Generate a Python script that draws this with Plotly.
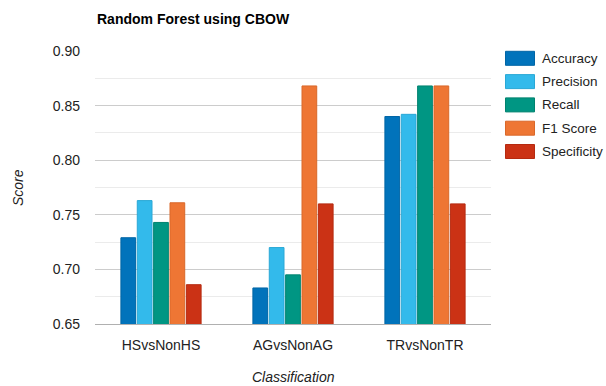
import plotly.graph_objects as go

categories = ["HSvsNonHS", "AGvsNonAG", "TRvsNonTR"]
series_names = ["Accuracy", "Precision", "Recall", "F1 Score", "Specificity"]
accuracy = [0.729, 0.683, 0.840]
precision = [0.763, 0.720, 0.842]
recall = [0.743, 0.695, 0.868]
f1_score = [0.761, 0.868, 0.868]
specificity = [0.686, 0.760, 0.760]
series_values = [accuracy, precision, recall, f1_score, specificity]
y_ticks = [0.65, 0.70, 0.75, 0.80, 0.85, 0.90]

colors = ["#0173BB", "#33BAEB", "#009683", "#EE7634", "#CB3215"]
edges = ["#0165A5", "#2AA8D6", "#00826F", "#D9682A", "#B52A10"]

FONT = "Liberation Sans, Arial, sans-serif"
W, H = 606, 386
L, R, T, B = 95, 115, 51, 62
pw, ph = W - L - R, H - T - B

fig = go.Figure()
for name, vals, c, e in zip(series_names, series_values, colors, edges):
    fig.add_trace(go.Bar(
        x=categories, y=vals, name=name,
        marker=dict(color=c, line=dict(color=e, width=1)),
        showlegend=False,
    ))

shapes = []
annotations = []
for i, (name, c, e) in enumerate(zip(series_names, colors, edges)):
    cy = 58.3 + i * 23.3
    x0, x1 = 505.5, 534.5
    shapes.append(dict(
        type="rect", xref="paper", yref="paper",
        x0=(x0 - L) / pw, x1=(x1 - L) / pw,
        y0=(H - B - (cy + 7)) / ph, y1=(H - B - (cy - 7)) / ph,
        fillcolor=c, line=dict(color=e, width=1),
    ))
    annotations.append(dict(
        text=name, xref="paper", yref="paper",
        x=(540 - L) / pw, y=(H - B - cy) / ph,
        xanchor="left", yanchor="middle", showarrow=False,
        font=dict(family=FONT, size=13.5, color="#222222"),
    ))

annotations.append(dict(
    text="<i>Score</i>", xref="paper", yref="paper",
    x=(18 - L) / pw, y=(H - B - 188) / ph, textangle=-90,
    xanchor="center", yanchor="middle", showarrow=False,
    font=dict(family=FONT, size=14, color="#222222"),
))
annotations.append(dict(
    text="<i>Classification</i>", xref="paper", yref="paper",
    x=0.5, y=(H - B - 377) / ph,
    xanchor="center", yanchor="middle", showarrow=False,
    font=dict(family=FONT, size=14, color="#222222"),
))
annotations.append(dict(
    text="<b>Random Forest using CBOW</b>", xref="paper", yref="paper",
    x=(95 - L) / pw, y=(H - B - 19) / ph,
    xanchor="left", yanchor="middle", showarrow=False,
    font=dict(family=FONT, size=14, color="#000000"),
))

fig.update_layout(
    width=W, height=H,
    margin=dict(l=L, r=R, t=T, b=B, pad=0),
    paper_bgcolor="white", plot_bgcolor="white",
    barmode="group", bargap=0.38, bargroupgap=0.1,
    font=dict(family=FONT, size=14, color="#222222"),
    shapes=shapes, annotations=annotations,
)
fig.update_xaxes(
    showgrid=False, showline=True, linecolor="#b0b0b0", linewidth=1,
    ticks="", ticklabelstandoff=8, tickfont=dict(size=14, color="#222222"),
    range=[-0.5, 2.5],
)
fig.update_yaxes(
    range=[0.65, 0.90], tickvals=y_ticks, tickformat=".2f",
    showgrid=True, gridcolor="#cccccc", gridwidth=1,
    minor=dict(dtick=0.025, showgrid=True, gridcolor="#ebebeb", gridwidth=1),
    zeroline=False, showline=False, ticks="", ticklabelstandoff=14,
    tickfont=dict(size=14, color="#222222"),
)

fig.write_html("out.html")
